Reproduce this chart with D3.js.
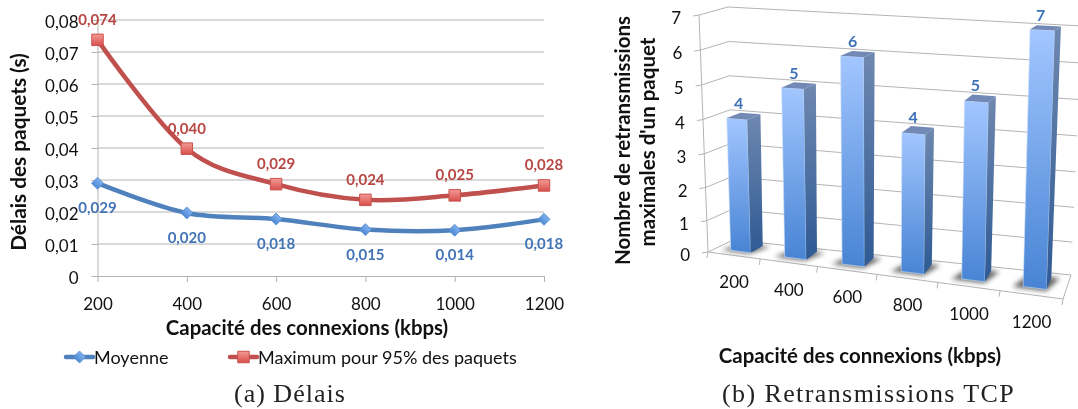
<!DOCTYPE html>
<html><head><meta charset="utf-8">
<script src="https://cdn.jsdelivr.net/npm/d3@7/dist/d3.min.js"></script>
<style>
html,body{margin:0;padding:0;background:#fff}
svg{display:block;filter:blur(0.35px)}
text{font-family:Lato,"Open Sans",sans-serif;fill:#111}
.cap{font-family:"Liberation Serif",serif;fill:#222}
</style></head><body><svg id="c" width="1078" height="409"></svg>
<script>
// ---- data ----
const capacities = ["200","400","600","800","1000","1200"];
const meanDelay = [0.0290,0.0197,0.0178,0.0145,0.0143,0.0177];
const maxDelay  = [0.0738,0.0398,0.0287,0.0238,0.0252,0.0283];
const meanLabels = ["0,029","0,020","0,018","0,015","0,014","0,018"];
const maxLabels  = ["0,074","0,040","0,029","0,024","0,025","0,028"];
const delayTicks = [0,0.01,0.02,0.03,0.04,0.05,0.06,0.07,0.08];
const retransmissions = [4,5,6,4,5,7];
const retransTicks = [0,1,2,3,4,5,6,7];

const svg = d3.select("#c");
const defs = svg.append("defs");
const gridCol = "#b4b4b4";
function grad(id,c1,c2){
  const g = defs.append("linearGradient").attr("id",id).attr("x1",0).attr("y1",0).attr("x2",0).attr("y2",1);
  g.append("stop").attr("offset",0).attr("stop-color",c1);
  g.append("stop").attr("offset",1).attr("stop-color",c2);
}
grad("gFront","#a2c6ff","#4884d4");
grad("gSide","#6e88b0","#2f5a94");
grad("gSq","#f39a95","#d8504c");
grad("gDi","#7fb0ee","#4f8ad6");
defs.append("filter").attr("id","blur").attr("x","-50%").attr("y","-50%").attr("width","200%").attr("height","200%")
  .append("feGaussianBlur").attr("stdDeviation",2.6);

// ---- left chart ----
const x = d3.scalePoint().domain(capacities).range([97.5,544]);
const y = d3.scaleLinear().domain([0,0.08]).range([276,20]);
const left = svg.append("g");

left.append("g").selectAll("line").data(delayTicks.slice(1)).join("line")
  .attr("x1",97.5).attr("x2",544).attr("y1",d=>y(d)).attr("y2",d=>y(d))
  .attr("stroke",gridCol).attr("stroke-width",1);

const yAxis = left.append("g").attr("transform","translate(97.5,0)")
  .call(d3.axisLeft(y).tickValues(delayTicks).tickSize(6).tickPadding(13)
    .tickFormat(d=>d===0?"0":d3.format(".2f")(d).replace(".",",")));
yAxis.selectAll("path,line").attr("stroke",gridCol);
yAxis.selectAll("text").attr("font-size",17).attr("font-family","Lato").attr("fill","#111").attr("y",2);

const xAxis = left.append("g").attr("transform","translate(0,276)")
  .call(d3.axisBottom(x).tickSize(6).tickPadding(16).tickSizeOuter(0));
xAxis.selectAll("path,line").attr("stroke",gridCol);
xAxis.selectAll("text").attr("font-size",17).attr("font-family","Lato").attr("fill","#111");

const line = d3.line().x((d,i)=>x(capacities[i])).y(d=>y(d)).curve(d3.curveCardinal.tension(0));
left.append("path").datum(meanDelay).attr("d",line).attr("fill","none").attr("stroke","#4f81bd").attr("stroke-width",4.5);
left.append("path").datum(maxDelay).attr("d",line).attr("fill","none").attr("stroke","#c0504d").attr("stroke-width",4.5);

const diamond = d3.symbol().type(d3.symbolSquare).size(72)();
function di(sel){ sel.attr("d",diamond).attr("fill","url(#gDi)").attr("stroke","#5a8ccb").attr("stroke-width",.8); }
function sq(sel){ sel.attr("d",d3.symbol().type(d3.symbolSquare).size(132)()).attr("fill","url(#gSq)").attr("stroke","#c8504c").attr("stroke-width",1); }

left.append("g").selectAll("path").data(meanDelay).join("path").call(di)
  .attr("transform",(d,i)=>`translate(${x(capacities[i])},${y(d)}) rotate(45)`);
left.append("g").selectAll("path").data(maxDelay).join("path").call(sq)
  .attr("transform",(d,i)=>`translate(${x(capacities[i])},${y(d)})`);

left.append("g").selectAll("text").data(meanLabels).join("text")
  .attr("x",(d,i)=>x(capacities[i])).attr("y",(d,i)=>y(meanDelay[i])+30)
  .attr("text-anchor","middle").attr("font-size",15).attr("font-weight",700).style("fill","#4274b6").text(d=>d);
left.append("g").selectAll("text").data(maxLabels).join("text")
  .attr("x",(d,i)=>x(capacities[i])).attr("y",(d,i)=>y(maxDelay[i])-15)
  .attr("text-anchor","middle").attr("font-size",15).attr("font-weight",700).style("fill","#b84744").text(d=>d);

left.append("text").attr("x",307).attr("y",335).attr("text-anchor","middle").attr("font-size",20.4).attr("font-weight",700).text("Capacité des connexions (kbps)");
left.append("text").attr("transform","translate(26,152) rotate(-90)").attr("text-anchor","middle").attr("font-size",20.8).attr("font-weight",700).text("Délais des paquets (s)");

// legend
const legend = left.append("g");
const legendItems = [["Moyenne",66,"#4f81bd",di,45],["Maximum pour 95% des paquets",230,"#c0504d",sq,0]];
legendItems.forEach(([label,lx,col,mark,rot])=>{
  legend.append("line").attr("x1",lx).attr("x2",lx+27).attr("y1",357).attr("y2",357).attr("stroke",col).attr("stroke-width",4.5).attr("stroke-linecap","round");
  legend.append("path").call(mark).attr("transform",`translate(${lx+13.5},357) rotate(${rot})`);
  legend.append("text").attr("x",lx+28).attr("y",364).attr("font-size",18).text(label);
});

left.append("text").attr("class","cap").attr("x",234).attr("y",402).attr("font-size",26).attr("letter-spacing",1).text("(a) Délais");

// ---- right 3-D chart ----
// corners: [u,v,w] -> screen; u along categories, v up, w depth
const C = {
  "000":[708,252],"100":[1063,299],"001":[733,240],"101":[1071,275],
  "010":[699,15], "110":[1071,34], "011":[728,7],  "111":[1082,26]
};
function P(u,v,w){
  let px=0,py=0;
  for(const a of [0,1])for(const b of [0,1])for(const c of [0,1]){
    const k=(a?u:1-u)*(b?v:1-v)*(c?w:1-w), p=C[`${a}${b}${c}`];
    px+=k*p[0]; py+=k*p[1];
  }
  return [px,py];
}
const uS = d3.scalePow().exponent(1.07).domain([0,6]).range([0,1]);
const vS = d3.scalePow().exponent(1.04).domain([0,7]).range([0,1]);
const barL=.32, barR=.70, barF=.30, barB=.82;
const right = svg.append("g");
const poly = pts => d3.line()(pts)+"Z";
const seg = (a,b)=>right.append("line").attr("x1",a[0]).attr("y1",a[1]).attr("x2",b[0]).attr("y2",b[1]).attr("stroke",gridCol).attr("stroke-width",1);

retransTicks.forEach(t=>{
  const v=vS(t);
  seg(P(0,v,1),P(1,v,1));
  seg(P(0,v,0),P(0,v,1));
  const f=P(0,v,0);
  seg(f,[f[0]-6,f[1]+1]);
  right.append("text").attr("x",f[0]-18).attr("y",f[1]+9).attr("text-anchor","end").attr("font-size",17).text(t);
});
seg(P(0,0,0),P(0,1,0));
seg(P(0,0,0),P(1,0,0));
seg(P(1,0,0),P(1,0,1));
capacities.forEach((c,i)=>{
  const f=P(uS(i),0,0); seg(f,[f[0]-1,f[1]+6]);
  const m=P((uS(i)+uS(i+1))/2,0,0);
  right.append("text").attr("x",m[0]).attr("y",m[1]+33).attr("text-anchor","middle").attr("font-size",17).text(c);
});
{const f=P(1,0,0); seg(f,[f[0]-1,f[1]+6]);}

retransmissions.forEach((val,i)=>{
  const uL=uS(i+barL),uR=uS(i+barR),v=vS(val);
  // shadow
  right.append("path").attr("d",poly([P(uS(i+barL-.16),0,barF-.06),P(uR,0,barF-.06),P(uS(i+barR+.14),0,barB),P(uL,0,barB)]))
    .attr("fill","#444").attr("opacity",.85).attr("filter","url(#blur)");
  right.append("path").attr("d",poly([P(uL,0,barF),P(uL,v,barF),P(uR,v,barF),P(uR,0,barF)])).attr("fill","url(#gFront)").attr("stroke","#cfe0f8").attr("stroke-width",.6);
  right.append("path").attr("d",poly([P(uR,0,barF),P(uR,v,barF),P(uR,v,barB),P(uR,0,barB)])).attr("fill","url(#gSide)");
  right.append("path").attr("d",poly([P(uL,v,barF),P(uR,v,barF),P(uR,v,barB),P(uL,v,barB)])).attr("fill","#7289b6");
  const t=P((uL+uR)/2,v,(barF+barB)/2);
  right.append("text").attr("x",t[0]-5).attr("y",t[1]-7).attr("text-anchor","middle").attr("font-size",16).attr("font-weight",700).style("fill","#3f72b8").text(val);
});

right.append("text").attr("x",860).attr("y",363).attr("text-anchor","middle").attr("font-size",20.4).attr("font-weight",700).text("Capacité des connexions (kbps)");
right.append("text").attr("transform","translate(630,140.5) rotate(-90)").attr("text-anchor","middle").attr("font-size",20.5).attr("font-weight",700).text("Nombre de retransmissions");
right.append("text").attr("transform","translate(655,142) rotate(-90)").attr("text-anchor","middle").attr("font-size",20.5).attr("font-weight",700).text("maximales d'un paquet");
right.append("text").attr("class","cap").attr("x",722).attr("y",402).attr("font-size",26).attr("letter-spacing",1.4).text("(b) Retransmissions TCP");
</script></body></html>
